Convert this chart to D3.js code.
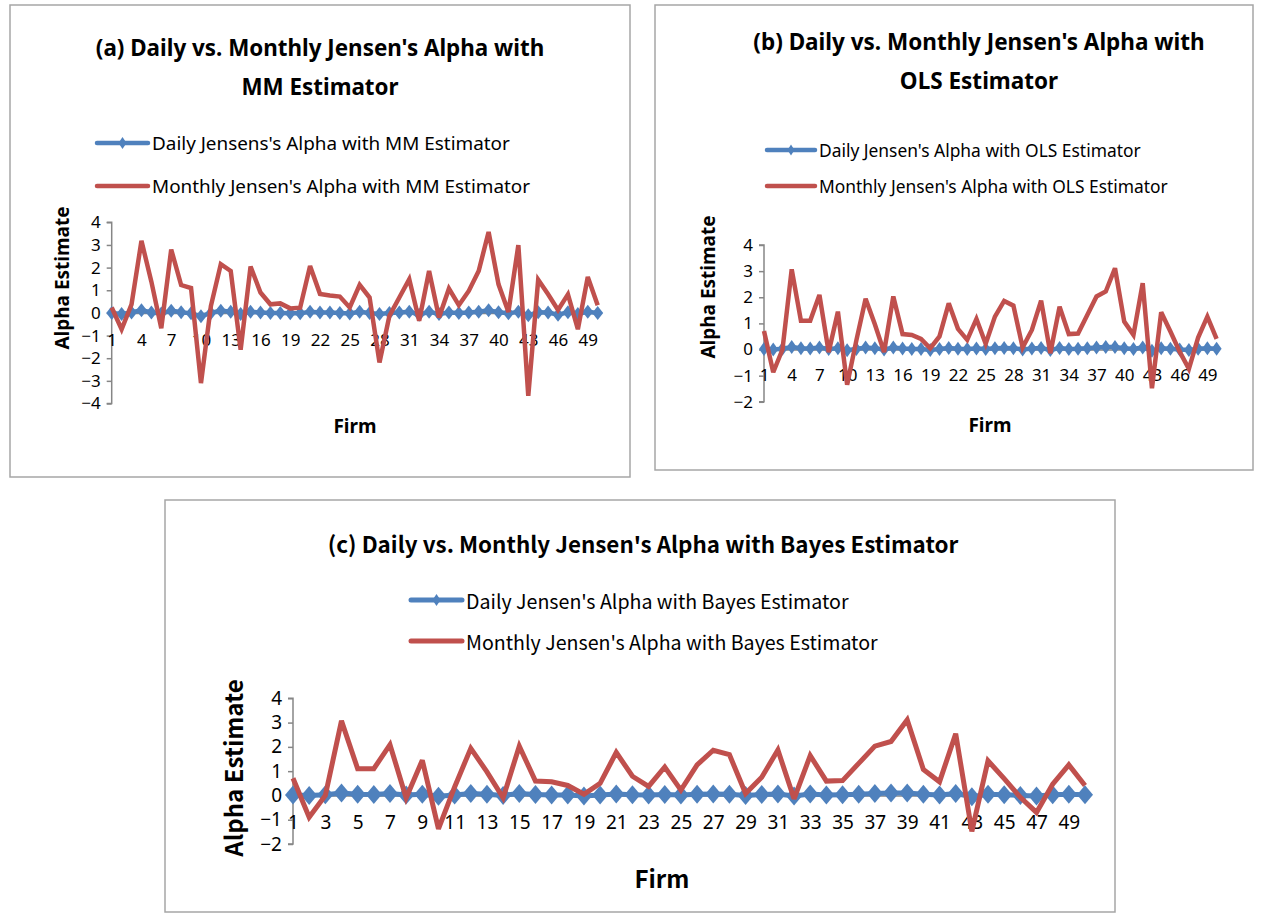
<!DOCTYPE html>
<html>
<head>
<meta charset="utf-8">
<script src="https://cdn.jsdelivr.net/npm/d3@7"></script>
<style>
  html, body { margin: 0; padding: 0; background: #fff; }
  svg { display: block; }
  text { font-family: "Noto Sans", sans-serif; fill: #000; }
</style>
</head>
<body>
<svg id="chart" width="1266" height="918"></svg>
<script>
// ---------------- DATA ----------------
const firms = [1,2,3,4,5,6,7,8,9,10,11,12,13,14,15,16,17,18,19,20,21,22,23,24,25,
               26,27,28,29,30,31,32,33,34,35,36,37,38,39,40,41,42,43,44,45,46,47,48,49,50];

const xTicksEvery3 = [1,4,7,10,13,16,19,22,25,28,31,34,37,40,43,46,49];
const xTicksEvery2 = [1,3,5,7,9,11,13,15,17,19,21,23,25,27,29,31,33,35,37,39,41,43,45,47,49];
const yTicksA = [-4,-3,-2,-1,0,1,2,3,4];
const yTicksBC = [-2,-1,0,1,2,3,4];

const dailyMM = [0.00,-0.05,0.02,0.12,0.02,-0.03,0.10,0.03,-0.02,-0.15,
                 0.00,0.10,0.05,-0.05,0.05,0.02,0.00,0.00,-0.02,-0.02,
                 0.05,0.02,0.02,0.00,-0.03,0.05,0.00,-0.05,0.00,0.02,
                 0.05,-0.08,0.05,-0.05,0.02,0.00,0.02,0.05,0.12,0.03,
                 -0.02,0.05,-0.10,0.03,0.02,-0.08,0.03,-0.05,0.05,0.00];
const monthlyMM = [0.24,-0.72,0.38,3.18,1.38,-0.68,2.80,1.23,1.10,-3.10,
                   0.30,2.15,1.85,-1.63,2.05,0.90,0.38,0.42,0.20,0.23,
                   2.07,0.84,0.77,0.72,0.24,1.24,0.68,-2.19,-0.13,0.68,
                   1.49,-0.35,1.85,-0.20,1.07,0.34,0.97,1.85,3.57,1.26,
                   0.04,2.99,-3.66,1.46,0.82,0.13,0.82,-0.72,1.59,0.34];

const dailyOLS = [0.02,0.00,0.03,0.10,0.05,0.04,0.08,0.02,0.05,-0.03,
                  0.02,0.08,0.05,0.00,0.08,0.04,0.02,0.02,-0.02,0.02,
                  0.06,0.03,0.02,0.04,0.02,0.05,0.06,0.05,0.00,0.04,
                  0.06,-0.02,0.06,0.02,0.03,0.05,0.08,0.10,0.10,0.05,
                  0.02,0.08,-0.05,0.05,0.03,0.00,-0.02,0.03,0.05,0.03];
const monthlyOLS = [0.71,-0.87,0.00,3.07,1.10,1.10,2.09,-0.10,1.45,-1.35,
                    0.35,1.94,0.97,-0.10,2.03,0.59,0.56,0.41,0.05,0.50,
                    1.77,0.79,0.37,1.17,0.22,1.26,1.86,1.68,0.08,0.75,
                    1.87,-0.14,1.64,0.59,0.61,1.32,2.03,2.22,3.11,1.07,
                    0.56,2.54,-1.48,1.43,0.69,-0.08,-0.74,0.46,1.26,0.41];

const dailyBayes = [0.02,0.00,0.03,0.10,0.05,0.04,0.08,0.02,0.05,-0.03,
                    0.02,0.08,0.05,0.00,0.08,0.04,0.02,0.02,-0.02,0.02,
                    0.06,0.03,0.02,0.04,0.02,0.05,0.06,0.05,0.00,0.04,
                    0.06,-0.02,0.06,0.02,0.03,0.05,0.08,0.10,0.10,0.05,
                    0.02,0.08,-0.05,0.05,0.03,0.00,-0.02,0.03,0.05,0.03];
const monthlyBayes = [0.71,-0.90,0.00,3.07,1.10,1.10,2.09,-0.10,1.45,-1.38,
                      0.35,1.94,0.97,-0.10,2.03,0.59,0.56,0.41,0.05,0.50,
                      1.77,0.79,0.37,1.17,0.22,1.26,1.86,1.68,0.08,0.75,
                      1.87,-0.14,1.64,0.59,0.61,1.32,2.03,2.22,3.11,1.07,
                      0.56,2.54,-1.48,1.43,0.69,-0.08,-0.70,0.46,1.26,0.41];

// ---------------- STYLE ----------------
const BLUE = "#4F81BD", RED = "#C0504D", AXIS = "#868686", BORDER = "#A6A6A6";
const SANS = "'Noto Sans', sans-serif";
const NARROW = "'Noto Sans CJK KR', 'Noto Sans', sans-serif";
const TICKF = "Roboto, 'Noto Sans', sans-serif";

const svg = d3.select("#chart");

function diamondPath(w, h) {
  return `M0,${-h/2}L${w/2},0L0,${h/2}L${-w/2},0Z`;
}

function drawPanel(p) {
  const g = svg.append("g");
  g.append("rect").attr("x", p.box[0]).attr("y", p.box[1])
    .attr("width", p.box[2]).attr("height", p.box[3])
    .attr("fill", "#fff").attr("stroke", BORDER).attr("stroke-width", 1.5);

  p.title.forEach((t, i) => {
    g.append("text").attr("x", p.titleX).attr("y", p.titleY[i])
      .attr("text-anchor", "middle").attr("dominant-baseline", "central")
      .attr("font-weight", "bold").attr("font-size", p.titleSize)
      .style("font-family", p.titleFont).text(t);
  });

  p.legend.forEach((L, i) => {
    const y = p.legY[i];
    g.append("line").attr("x1", p.legX[0]).attr("x2", p.legX[1])
      .attr("y1", y).attr("y2", y)
      .attr("stroke", L.color).attr("stroke-width", p.legStroke).attr("stroke-linecap", "round");
    if (L.marker) {
      g.append("path").attr("d", diamondPath(p.legDia[0], p.legDia[1]))
        .attr("transform", `translate(${(p.legX[0] + p.legX[1]) / 2},${y})`)
        .attr("fill", L.color);
    }
    g.append("text").attr("x", p.legX[1] + 4).attr("y", y)
      .attr("dominant-baseline", "central").attr("font-size", p.legSize)
      .style("font-family", p.legFont).text(L.label);
  });

  const x = d3.scalePoint().domain(firms).range([p.x0, p.x50]);
  const y = d3.scaleLinear().domain(p.yDomain).range(p.yRange);

  const yAxis = d3.axisLeft(y).tickValues(p.yTicks).tickSize(5).tickPadding(p.yPad).tickFormat(d3.format("d"));
  const ya = g.append("g").attr("transform", `translate(${p.x0},0)`).call(yAxis);
  ya.select(".domain").attr("stroke", AXIS).attr("stroke-width", 1.5)
    .attr("d", `M-5,${y(p.yDomain[1])}H0V${y(p.yDomain[0])}H-5`);
  ya.selectAll(".tick line").attr("stroke", AXIS).attr("stroke-width", 1.5);
  ya.selectAll(".tick text").attr("font-size", p.tickSize).attr("font-family", TICKF).attr("fill", "#000");

  const xAxis = d3.axisBottom(x).tickValues(p.xTicks).tickSize(0).tickPadding(p.xPad);
  const xa = g.append("g").attr("transform", `translate(0,${y(0)})`).call(xAxis);
  xa.select(".domain").attr("stroke", AXIS).attr("stroke-width", 1.5);
  xa.selectAll(".tick text").attr("font-size", p.tickSize).attr("font-family", TICKF).attr("fill", "#000");

  g.append("text").attr("transform", `translate(${p.yTitle[0]},${p.yTitle[1]}) rotate(-90)`)
    .attr("text-anchor", "middle").attr("dominant-baseline", "central")
    .attr("font-weight", "bold").attr("font-size", p.axisTitleSize)
    .style("font-family", p.axisFont).text("Alpha Estimate");
  g.append("text").attr("x", p.xTitle[0]).attr("y", p.xTitle[1])
    .attr("text-anchor", "middle").attr("dominant-baseline", "central")
    .attr("font-weight", "bold").attr("font-size", p.axisTitleSize)
    .style("font-family", p.axisFont).text("Firm");

  const line = d3.line().x((d, i) => x(firms[i])).y(d => y(d));
  g.append("path").datum(p.daily).attr("d", line)
    .attr("fill", "none").attr("stroke", BLUE).attr("stroke-width", p.stroke);
  g.selectAll(null).data(p.daily).enter().append("path")
    .attr("d", diamondPath(p.dia[0], p.dia[1]))
    .attr("transform", (d, i) => `translate(${x(firms[i])},${y(d)})`)
    .attr("fill", BLUE);

  g.append("path").datum(p.monthly).attr("d", line)
    .attr("fill", "none").attr("stroke", RED).attr("stroke-width", p.stroke)
    .attr("stroke-linejoin", "miter").attr("stroke-miterlimit", 3);
}

drawPanel({
  box: [10, 5, 620, 472],
  title: ["(a) Daily vs. Monthly Jensen's Alpha with", "MM Estimator"],
  titleX: 320, titleY: [47, 86], titleSize: 22.4, titleFont: SANS,
  legend: [
    { label: "Daily Jensens's Alpha with MM Estimator", color: BLUE, marker: true },
    { label: "Monthly Jensen's Alpha with MM Estimator", color: RED, marker: false }
  ],
  legX: [97, 148], legY: [143, 186], legSize: 18.9, legFont: SANS, legStroke: 4.5, legDia: [8, 12],
  x0: 111.7, x50: 597.7, yDomain: [-4, 4], yRange: [403.5, 222.3], yTicks: yTicksA,
  xTicks: xTicksEvery3, tickSize: 17, yPad: 6, xPad: 21,
  yTitle: [62, 278], xTitle: [355, 426], axisTitleSize: 19, axisFont: SANS,
  daily: dailyMM, monthly: monthlyMM, stroke: 4.5, dia: [11, 14]
});

drawPanel({
  box: [655, 5, 598, 465],
  title: ["(b) Daily vs. Monthly Jensen's Alpha with", "OLS Estimator"],
  titleX: 979, titleY: [41, 80], titleSize: 22.5, titleFont: SANS,
  legend: [
    { label: "Daily Jensen's Alpha with OLS Estimator", color: BLUE, marker: true },
    { label: "Monthly Jensen's Alpha with OLS Estimator", color: RED, marker: false }
  ],
  legX: [767, 815], legY: [150, 186], legSize: 17.4, legFont: SANS, legStroke: 4.5, legDia: [7, 11],
  x0: 764, x50: 1216.6, yDomain: [-2, 4], yRange: [401.8, 245], yTicks: yTicksBC,
  xTicks: xTicksEvery3, tickSize: 17, yPad: 6, xPad: 19,
  yTitle: [708, 287], xTitle: [990, 425], axisTitleSize: 19, axisFont: SANS,
  daily: dailyOLS, monthly: monthlyOLS, stroke: 4.5, dia: [10, 14]
});

drawPanel({
  box: [165, 500, 950, 412],
  title: ["(c) Daily vs. Monthly Jensen's Alpha with Bayes Estimator"],
  titleX: 643, titleY: [543], titleSize: 22.4, titleFont: NARROW,
  legend: [
    { label: "Daily Jensen's Alpha with Bayes Estimator", color: BLUE, marker: true },
    { label: "Monthly Jensen's Alpha with Bayes Estimator", color: RED, marker: false }
  ],
  legX: [411, 462], legY: [600, 641], legSize: 19.6, legFont: NARROW, legStroke: 5, legDia: [8, 12],
  x0: 293, x50: 1085, yDomain: [-2, 4], yRange: [844, 698.3], yTicks: yTicksBC,
  xTicks: xTicksEvery2, tickSize: 19, yPad: 6, xPad: 20,
  yTitle: [232, 768], xTitle: [662, 877], axisTitleSize: 24, axisFont: NARROW,
  daily: dailyBayes, monthly: monthlyBayes, stroke: 5, dia: [16, 19]
});
</script>
</body>
</html>
